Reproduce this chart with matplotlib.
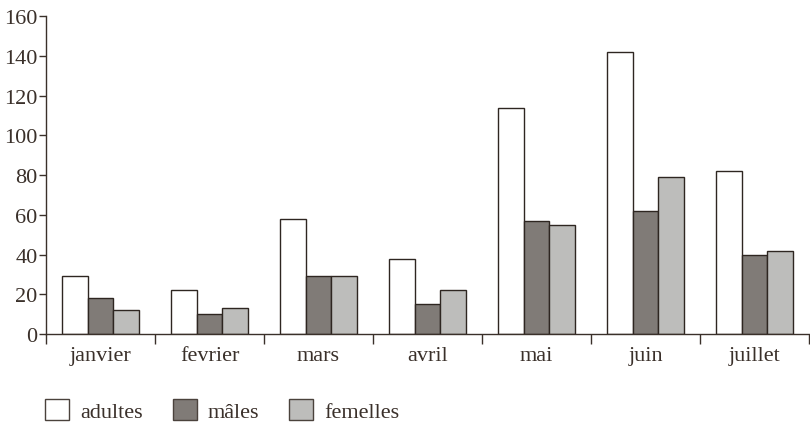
import numpy as np
import matplotlib
matplotlib.use('Agg')
import matplotlib.pyplot as plt
from matplotlib.patches import Patch

mois = ['janvier', 'fevrier', 'mars', 'avril', 'mai', 'juin', 'juillet']
adultes = [29, 22, 58, 38, 114, 142, 82]
males = [18, 10, 29, 15, 57, 62, 40]
femelles = [12, 13, 29, 22, 55, 79, 42]
y_ticks = [0, 20, 40, 60, 80, 100, 120, 140, 160]

ink = '#3a302a'
plt.rcParams['font.family'] = ['Liberation Serif', 'DejaVu Serif']
plt.rcParams['font.size'] = 16
plt.rcParams['text.color'] = ink

W, H = 810, 427
fig = plt.figure(figsize=(W / 100, H / 100), dpi=100)
ax = fig.add_axes([46 / W, 1 - 335 / H, (809 - 46) / W, (335 - 17.3) / H])

x = np.arange(len(mois)) + 0.5
bw = 0.235
edge = '#2e2621'
series = [(adultes, 'white', 'adultes'),
          (males, '#807b77', 'mâles'),
          (femelles, '#bdbdbb', 'femelles')]
for k, (vals, col, lab) in enumerate(series):
    ax.bar(x + (k - 1) * bw, vals, bw, color=col, edgecolor=edge, linewidth=1.0, label=lab)

ax.set_xlim(0, len(mois))
ax.set_ylim(0, 160)
ax.set_yticks(y_ticks)
# separators between months as major ticks, month names on minor ticks
ax.set_xticks(np.arange(len(mois) + 1))
ax.set_xticklabels([])
ax.set_xticks(x, minor=True)
ax.set_xticklabels(mois, minor=True)
ax.tick_params(axis='x', which='major', direction='out', length=7, width=1, color=ink)
ax.tick_params(axis='x', which='minor', length=0, pad=9, labelsize=16, labelcolor=ink)
ax.tick_params(axis='y', direction='out', length=5, width=1, color=ink, pad=1,
               labelsize=16, labelcolor=ink)
for s in ['top', 'right']:
    ax.spines[s].set_visible(False)
for s in ['left', 'bottom']:
    ax.spines[s].set_color(ink)
    ax.spines[s].set_linewidth(1)

handles = [Patch(facecolor=c, edgecolor='#4a423c', linewidth=1.0, label=l) for _, c, l in series]
fig.legend(handles=handles, loc='lower left', bbox_to_anchor=(45 / W, 4 / H),
           ncol=3, frameon=False, handlelength=1.08, handleheight=1.08,
           handletextpad=0.5, columnspacing=1.35, fontsize=16,
           borderpad=0, borderaxespad=0)

fig.savefig('out.png', dpi=100)
